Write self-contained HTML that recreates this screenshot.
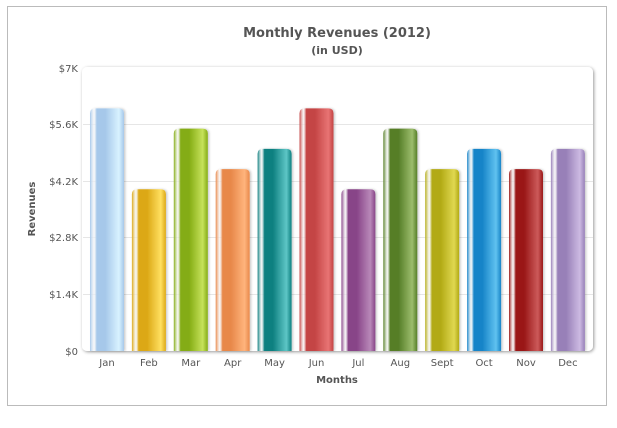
<!DOCTYPE html>
<html><head><meta charset="utf-8"><style>
body{margin:0;background:#fff;width:617px;height:423px;overflow:hidden}
text{font-family:"DejaVu Sans",Verdana,sans-serif}
</style></head><body>
<svg width="617" height="423" viewBox="0 0 617 423" xmlns="http://www.w3.org/2000/svg">
<defs>
<filter id="sh" x="-10%" y="-10%" width="120%" height="120%"><feDropShadow dx="1" dy="1" stdDeviation="1.5" flood-color="#000" flood-opacity="0.4"/></filter>
<filter id="bs" x="-20%" y="-10%" width="140%" height="120%"><feDropShadow dx="1.5" dy="0" stdDeviation="1" flood-color="#000" flood-opacity="0.2"/></filter>
</defs>
<rect x="7.5" y="6.5" width="599" height="399" fill="#fff" stroke="#bbb"/>
<text x="337" y="37" text-anchor="middle" font-size="13" font-weight="bold" fill="#555">Monthly Revenues (2012)</text>
<text x="337" y="54" text-anchor="middle" font-size="11" font-weight="bold" fill="#555">(in USD)</text>
<rect x="82" y="67" width="511" height="284" rx="5" fill="#fff" filter="url(#sh)"/>
<g stroke="#e6e6e6" stroke-width="1">
<line x1="83" x2="593" y1="124.5" y2="124.5"/><line x1="83" x2="593" y1="181.5" y2="181.5"/>
<line x1="83" x2="593" y1="237.5" y2="237.5"/><line x1="83" x2="593" y1="294.5" y2="294.5"/>
</g>
<g font-size="10" fill="#555" text-anchor="end">
<text x="78" y="72">$7K</text><text x="78" y="128">$5.6K</text><text x="78" y="185">$4.2K</text>
<text x="78" y="241">$2.8K</text><text x="78" y="298">$1.4K</text><text x="78" y="355">$0</text>
</g>
<text transform="translate(35,209) rotate(-90)" text-anchor="middle" font-size="10" font-weight="bold" fill="#555">Revenues</text>
<text x="337" y="383" text-anchor="middle" font-size="10" font-weight="bold" fill="#555">Months</text>
<g id="bars"></g>
<g id="labels" font-size="10" fill="#555" text-anchor="middle"></g>
</svg>
<script>
var d=[["Jan",6000,"#a6c8ea","#d8f2ff"],["Feb",4000,"#dca816","#ffe060"],["Mar",5500,"#84ac14","#c6e25a"],["Apr",4500,"#e8884a","#ffb47c"],["May",5000,"#0e8080","#5ec6c6"],["Jun",6000,"#c44444","#e87474"],["Jul",4000,"#884488","#b888b8"],["Aug",5500,"#567e28","#9cbd6c"],["Sept",4500,"#b2aa14","#e0d850"],["Oct",5000,"#1684c8","#60c2f0"],["Nov",4500,"#9a1818","#cc5a5a"],["Dec",5000,"#9880b8","#ccbae2"]];
var ns="http://www.w3.org/2000/svg",s=document.querySelector("svg"),defs=s.querySelector("defs"),b=document.getElementById("bars"),l=document.getElementById("labels");
d.forEach(function(r,i){
var g=document.createElementNS(ns,"linearGradient");g.id="g"+i;
[[0,r[2]],[0.12,"#ffffff"],[0.2,r[2]],[0.45,r[2]],[0.85,r[3]],[1,r[2]]].forEach(function(p){var st=document.createElementNS(ns,"stop");st.setAttribute("offset",p[0]);st.setAttribute("stop-color",p[1]);if(p[1]=="#ffffff")st.setAttribute("stop-opacity","0.6");g.appendChild(st)});
defs.appendChild(g);
var cx=107+i*41.9,h=r[1]/7000*283,y=351-h;
var re=document.createElementNS(ns,"path");
var x0=cx-17,x1=cx+17,rr=5;
re.setAttribute("d","M"+x0+",351 V"+(y+rr)+" Q"+x0+","+y+" "+(x0+rr)+","+y+" H"+(x1-rr)+" Q"+x1+","+y+" "+x1+","+(y+rr)+" V351 Z");
re.setAttribute("fill","url(#g"+i+")");re.setAttribute("filter","url(#bs)");b.appendChild(re);
var t=document.createElementNS(ns,"text");t.setAttribute("x",cx);t.setAttribute("y",366);t.textContent=r[0];l.appendChild(t);
});
</script>
</body></html>
